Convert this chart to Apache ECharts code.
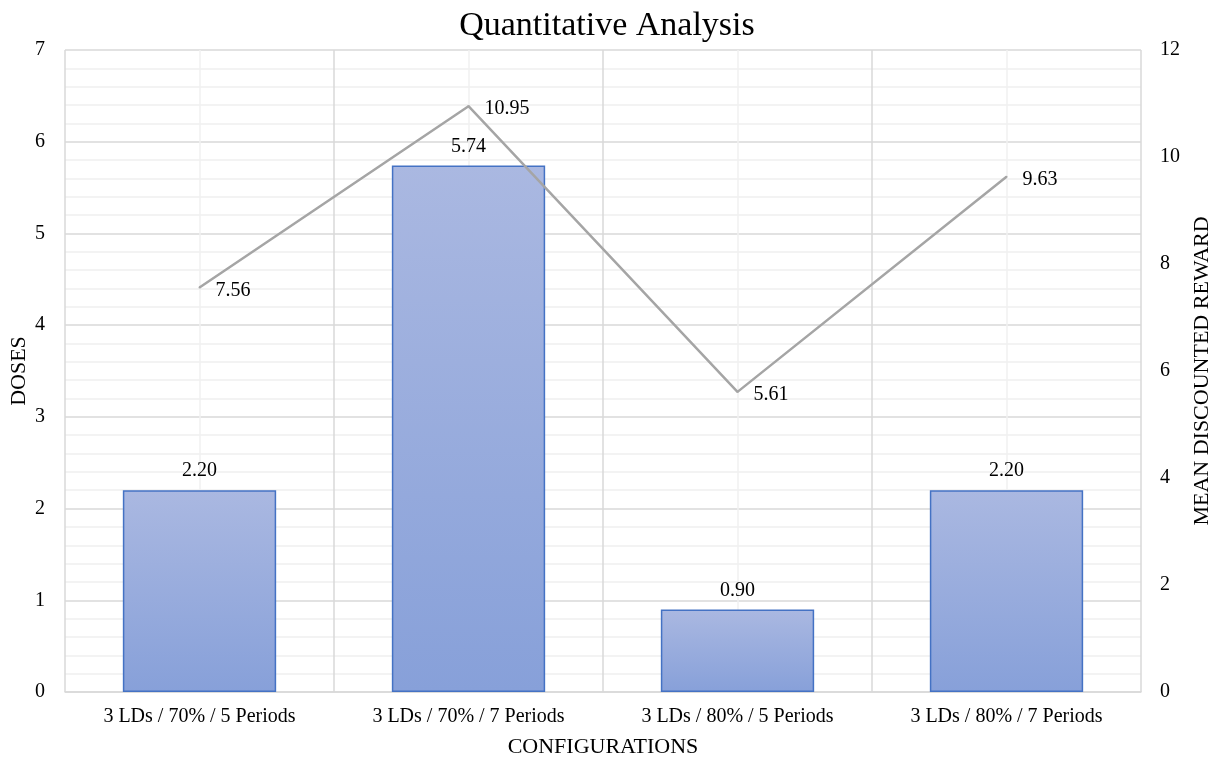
<!DOCTYPE html>
<html>
<head>
<meta charset="utf-8">
<script src="https://cdn.jsdelivr.net/npm/echarts@6/dist/echarts.min.js"></script>
<style>
  html, body { margin: 0; padding: 0; background: #fff; }
  #chart { width: 1214px; height: 758px; }
</style>
</head>
<body>
<div id="chart"></div>
<script>
// Configurations compared
const categories = ['3 LDs / 70% / 5 Periods', '3 LDs / 70% / 7 Periods', '3 LDs / 80% / 5 Periods', '3 LDs / 80% / 7 Periods'];
// Doses per configuration (bars, left axis)
const doses = [2.20, 5.74, 0.90, 2.20];
// Mean discounted reward (line, right axis)
const meanReward = [7.56, 10.95, 5.61, 9.63];

const FONT = '"Liberation Serif", "Times New Roman", serif';
const TEXT = '#000';

const chart = echarts.init(document.getElementById('chart'));
chart.setOption({
  animation: false,
  backgroundColor: '#fff',
  textStyle: { fontFamily: FONT, color: TEXT },
  title: {
    text: 'Quantitative Analysis',
    left: 'center',
    top: 4,
    textStyle: { fontFamily: FONT, fontSize: 34, fontWeight: 'normal', color: TEXT }
  },
  grid: { left: 65, right: 73, top: 50, bottom: 66, containLabel: false, outerBoundsMode: 'none' },
  xAxis: [
    {
      type: 'category',
      data: categories,
      boundaryGap: true,
      name: 'CONFIGURATIONS',
      nameLocation: 'middle',
      nameGap: 44,
      nameTextStyle: { fontFamily: FONT, fontSize: 22, color: TEXT },
      axisLine: { show: true, lineStyle: { color: '#D9D9D9', width: 1.5 } },
      axisTick: { show: false },
      axisLabel: { fontFamily: FONT, fontSize: 20, color: TEXT, margin: 15 },
      splitLine: { show: false }
    },
    {
      // Helper axis for the vertical gridlines: dark at category bounds, light at centres
      type: 'value',
      min: 0,
      max: 8,
      interval: 1,
      position: 'top',
      axisLine: { show: false },
      axisTick: { show: false },
      axisLabel: { show: false },
      splitLine: { show: true, lineStyle: { color: ['#D9D9D9', '#F0F0F0'], width: 1.5 } }
    }
  ],
  yAxis: [
    {
      type: 'value',
      min: 0,
      max: 7,
      interval: 1,
      name: 'DOSES',
      nameLocation: 'middle',
      nameGap: 35,
      nameMoveOverlap: false,
      nameRotate: 90,
      nameTextStyle: { fontFamily: FONT, fontSize: 22, color: TEXT },
      axisLine: { show: false },
      axisTick: { show: false },
      axisLabel: { fontFamily: FONT, fontSize: 20, color: TEXT, margin: 20 },
      splitLine: { show: true, lineStyle: { color: '#D9D9D9', width: 1.5 } },
      minorTick: { show: false, splitNumber: 5 },
      minorSplitLine: { show: true, lineStyle: { color: '#F0F0F0', width: 1.5 } }
    },
    {
      type: 'value',
      min: 0,
      max: 12,
      interval: 2,
      name: 'MEAN DISCOUNTED REWARD',
      nameLocation: 'middle',
      nameGap: 48,
      nameRotate: 90,
      nameTextStyle: { fontFamily: FONT, fontSize: 22, color: TEXT },
      axisLine: { show: false },
      axisTick: { show: false },
      axisLabel: { fontFamily: FONT, fontSize: 20, color: TEXT, margin: 19 },
      splitLine: { show: false }
    }
  ],
  series: [
    {
      name: 'DOSES',
      type: 'bar',
      xAxisIndex: 0,
      yAxisIndex: 0,
      data: doses,
      barWidth: '57%',
      itemStyle: {
        color: new echarts.graphic.LinearGradient(0, 0, 0, 1, [
          { offset: 0, color: '#AAB8E1' },
          { offset: 1, color: '#87A0D9' }
        ]),
        borderColor: '#4472C4',
        borderWidth: 1.5
      },
      label: {
        show: true,
        position: 'top',
        distance: 9,
        fontFamily: FONT,
        fontSize: 20,
        color: TEXT,
        formatter: p => p.value.toFixed(2)
      },
      z: 2
    },
    {
      name: 'MEAN DISCOUNTED REWARD',
      type: 'line',
      xAxisIndex: 0,
      yAxisIndex: 1,
      data: meanReward,
      symbol: 'circle',
      symbolSize: 2,
      showSymbol: true,
      itemStyle: { color: '#A5A5A5' },
      lineStyle: { color: '#A5A5A5', width: 2.5 },
      label: {
        show: true,
        position: [17, 4],
        align: 'left',
        verticalAlign: 'middle',
        fontFamily: FONT,
        fontSize: 20,
        color: TEXT,
        formatter: p => p.value.toFixed(2)
      },
      labelLayout: { hideOverlap: false },
      z: 3
    }
  ]
});
</script>
</body>
</html>
